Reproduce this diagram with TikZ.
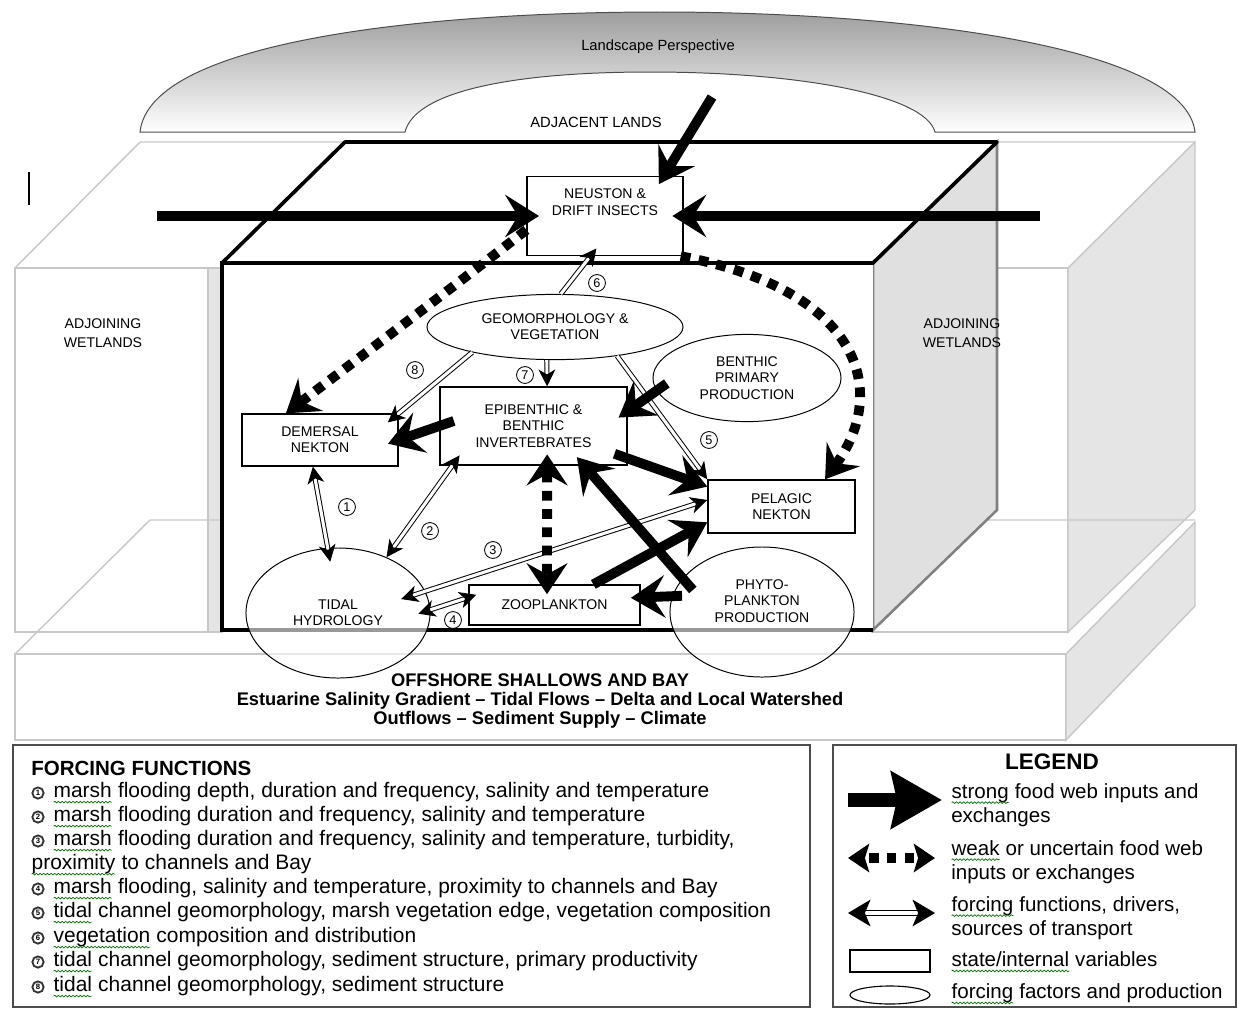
\documentclass[tikz,border=0pt]{standalone}
\usepackage{fontspec}
\setmainfont{Liberation Sans}
\usetikzlibrary{arrows.meta,calc,shapes.geometric,decorations.pathmorphing}
\newcommand\squig[1]{\tikz[baseline=(sq.base)]{\node[inner sep=0pt,outer sep=0pt,anchor=center] (sq) {#1};
  \draw[green!45!black,line width=0.5pt,decorate,decoration={snake,amplitude=0.6pt,segment length=2.6pt}]
  ([yshift=-3pt]sq.base west) -- ([yshift=-3pt]sq.base east);}}
\tikzset{
  stip/.tip={Stealth[length=24pt,width=30pt,inset=9pt]},
  wtip/.tip={Stealth[length=22pt,width=29pt,inset=8pt]},
  ftip/.tip={Stealth[length=12pt,width=12pt,inset=3.5pt]},
  statebox/.style={draw,line width=0.9pt,fill=white,inner sep=0pt},
  factor/.style={ellipse,draw,line width=0.7pt,fill=white,inner sep=0pt},
  lbl/.style={align=center,inner sep=0pt,font=\fontsize{10}{11.5}\selectfont},
  numc/.style={circle,draw,line width=0.6pt,inner sep=0pt,minimum size=12pt,font=\fontsize{9}{9}\selectfont},
  wall/.style={draw=black!22,line width=1pt},
  face/.style={fill=black!10,draw=black!22,line width=1pt},
  strongflow/.style={line width=7pt,-stip},
  weakflow/.style={line width=7pt,dash pattern=on 7pt off 6pt,-wtip},
  forcing/.style={line width=0.7pt,double,double distance=2.2pt,-ftip},
  listnum/.style={circle,draw=black!80,line width=1.3pt,inner sep=0pt,minimum size=8pt,font=\fontsize{5.5}{5.5}\selectfont\bfseries},
  listtxt/.style={anchor=west,inner sep=0pt,font=\fontsize{14.9}{17}\selectfont},
  legtxt/.style={anchor=west,align=left,inner sep=0pt,font=\fontsize{14.6}{17}\selectfont}
}
\begin{document}
\begin{tikzpicture}[x=0.025cm,y=-0.025cm]
\useasboundingbox (0,0) rectangle (1238,1009);
%=========================================== landscape
\shadedraw[top color=black!38,bottom color=white,draw=black!70,line width=0.7pt]
  (140,132) .. controls (150,40) and (430,12) .. (660,12) .. controls (900,12) and (1185,45) .. (1195,132)
  -- (935,132) .. controls (925,95) and (800,72) .. (650,72) .. controls (510,72) and (415,92) .. (405,132) -- cycle;
\node[font=\fontsize{10.5}{12}\selectfont] (landtxt) at (658,47) {Landscape Perspective};
\node[font=\fontsize{10.5}{12}\selectfont] (adjtxt) at (596,122) {ADJACENT LANDS};
%=========================================== wetlands and bay blocks
\draw[wall] (140,142) -- (1195,142) (140,142) -- (15,268);
\draw[wall] (15,268) rectangle (208,632);
\draw[face] (208,268) rectangle (222,632);
\draw[wall] (873,268) rectangle (1068,632);
\draw[face] (1068,268) -- (1195,142) -- (1195,510) -- (1068,632) -- cycle;
\draw[wall] (15,654) rectangle (1066,740);
\draw[face] (1066,654) -- (1195,522) -- (1195,606) -- (1066,740) -- cycle;
\draw[wall] (150,520) -- (1195,520) (150,520) -- (15,654);
\draw[line width=1.4pt] (29,172) -- (29,205);
%=========================================== marsh channel box
\draw[fill=black!12,draw=black!50,line width=1.8pt] (873,263) -- (997,142) -- (997,510) -- (873,630) -- cycle;
\draw[line width=2.6pt,fill=white,line join=round] (222,263) -- (345,142) -- (997,142) -- (873,263) -- cycle;
\fill[white] (222,263) rectangle (873,630);
\draw[line width=2.8pt] (873,263) -- (222,263) -- (222,630) -- (873,630);
\node[lbl,font=\fontsize{10}{13.5}\selectfont] (wetl) at (103,333) {ADJOINING\\WETLANDS};
\node[lbl,font=\fontsize{10}{13.5}\selectfont] (wetr) at (962,333) {ADJOINING\\WETLANDS};
\node[align=center,inner sep=0pt,font=\fontsize{13}{13.2}\selectfont\bfseries] (bay) at (540,701)
  {OFFSHORE SHALLOWS AND BAY\\Estuarine Salinity Gradient – Tidal Flows – Delta and Local Watershed\\Outflows – Sediment Supply – Climate};
%=========================================== variables
\node[statebox,minimum width=3.9cm,minimum height=1.98cm] (neuston) at (605,216) {};
\node[lbl,font=\fontsize{10}{12.5}\selectfont] (neustontxt) at (605,202) {NEUSTON \&\\DRIFT INSECTS};
\node[factor,lbl,minimum width=6.4cm,minimum height=1.63cm] (geo) at (555,327) {GEOMORPHOLOGY \&\\VEGETATION};
\node[factor,lbl,minimum width=4.7cm,minimum height=2.18cm] (benthic) at (747,378) {BENTHIC\\PRIMARY\\PRODUCTION};
\node[statebox,lbl,minimum width=4.68cm,minimum height=1.95cm] (epi) at (533.5,426) {EPIBENTHIC \&\\BENTHIC\\INVERTEBRATES};
\node[statebox,lbl,minimum width=3.9cm,minimum height=1.3cm] (demersal) at (320,440) {DEMERSAL\\NEKTON};
\node[statebox,lbl,minimum width=3.68cm,minimum height=1.33cm] (pelagic) at (781.5,506.5) {PELAGIC\\NEKTON};
\node[statebox,lbl,minimum width=4.28cm,minimum height=1cm] (zoo) at (554.5,605) {ZOOPLANKTON};
\node[factor,lbl,fill opacity=0.6,text opacity=1,minimum width=4.6cm,minimum height=3.25cm] (tidal) at (338,613) {TIDAL\\HYDROLOGY};
\node[factor,fill opacity=0.6,minimum width=4.6cm,minimum height=3.25cm] (phyto) at (762,612) {};
\node[lbl] (phytotxt) at (762,601) {PHYTO-\\PLANKTON\\PRODUCTION};
%=========================================== forcing functions
\draw[forcing,ftip-ftip,shorten >=-10pt] (demersal.-105) -- (tidal.99);
\draw[forcing,ftip-ftip,shorten <=-9pt] (epi.-154) -- (tidal.49);
\draw[forcing,ftip-ftip,shorten >=-18pt] (pelagic.175) -- (tidal.14);
\draw[forcing,ftip-ftip,shorten <=-9pt,shorten >=-6pt] (tidal.2) -- (zoo.175);
\draw[forcing] (geo.-25) -- (pelagic.north west);
\draw[forcing,shorten >=-7pt] (geo.80) -- (neuston.-110);
\draw[forcing] (geo.-104) -- (epi.71);
\draw[forcing,shorten >=-10pt] (geo.-163) -- (demersal.north east);
\foreach \k/\p in {1/{347,507},2/{430,531},3/{493,550},4/{453,620},5/{709,440},6/{597,283},7/{525,375},8/{415,370}}
  \node[numc] (num\k) at (\p) {\k};
%=========================================== food web
\coordinate (adjin) at (712,97);
\coordinate (wetlin) at (157,216);
\coordinate (wetrin) at (1040,216);
\draw[strongflow,shorten >=-7pt] (adjin) -- ($(neuston.north)!0.75!(neuston.north east)$);
\draw[strongflow,shorten >=-9pt] (wetlin) -- (neuston.west);
\draw[strongflow,shorten >=-8pt] (wetrin) -- (neuston.east);
\draw[strongflow,shorten <=-9pt,shorten >=-8pt] (benthic.188) -- (epi.9);
\draw[strongflow,shorten <=-11pt,shorten >=-8pt] (epi.west) -- (demersal.east);
\draw[strongflow,shorten <=-10pt] (epi.-19) -- (pelagic.165);
\draw[strongflow,shorten <=-11pt,shorten >=-8pt] (phyto.157) -- (epi.-38);
\draw[strongflow] (zoo.28) -- (pelagic.192);
\draw[strongflow,shorten <=-7pt,shorten >=-7pt] (phyto.170) -- (zoo.5);
\draw[weakflow] (neuston.190) .. controls (452,288) and (372,348) .. (demersal.142);
\draw[weakflow] (neuston.-28) .. controls (860,290) and (890,390) .. (pelagic.32);
\draw[weakflow,wtip-wtip,shorten <=-8pt,shorten >=-7pt] (epi.-71) -- (zoo.110);
%=========================================== forcing functions list
\draw[black!70,line width=1pt] (13,745) rectangle (810,1007);
\node[anchor=west,inner sep=0pt,font=\fontsize{14.6}{17}\selectfont\bfseries] (fftitle) at (31,768) {FORCING FUNCTIONS};
\foreach \k/\yy/\txt in {
  1/793/{\squig{marsh} flooding depth, duration and frequency, salinity and temperature},
  2/817/{\squig{marsh} flooding duration and frequency, salinity and temperature},
  3/841/{\squig{marsh} flooding duration and frequency, salinity and temperature, turbidity,},
  4/889/{\squig{marsh} flooding, salinity and temperature, proximity to channels and Bay},
  5/913/{\squig{tidal} channel geomorphology, marsh vegetation edge, vegetation composition},
  6/938/{\squig{vegetation} composition and distribution},
  7/962/{\squig{tidal} channel geomorphology, sediment structure, primary productivity},
  8/987/{\squig{tidal} channel geomorphology, sediment structure}}{
  \node[listnum] (fn\k) at (38,\yy) {\k};
  \node[listtxt] (ff\k) at (53,\yy) {\txt};
}
\node[listtxt] (ff3b) at (31,865) {\squig{proximity} to channels and Bay};
%=========================================== legend
\draw[black!70,line width=1pt] (833,745) rectangle (1236,1007);
\node[font=\fontsize{16}{16}\selectfont\bfseries] (legtitle) at (1052,762) {LEGEND};
\coordinate (ls1) at (848,800); \coordinate (ls2) at (942,800);
\coordinate (lw1) at (848,858); \coordinate (lw2) at (935,858);
\coordinate (lf1) at (848,913); \coordinate (lf2) at (935,913);
\draw[line width=10pt,-{Stealth[length=36pt,width=40pt,inset=4pt]}] (ls1) -- (ls2);
\draw[line width=6.5pt,dash pattern=on 6.5pt off 6pt,dash phase=-4pt,
  {Stealth[length=15pt,width=20pt,inset=3pt]}-{Stealth[length=15pt,width=20pt,inset=3pt]}] (lw1) -- (lw2);
\draw[line width=1pt,double,double distance=2.4pt,
  {Stealth[length=16pt,width=19pt,inset=4pt]}-{Stealth[length=16pt,width=19pt,inset=4pt]}] (lf1) -- (lf2);
\node[draw,line width=0.8pt,minimum width=2cm,minimum height=0.55cm] (lgbox) at (890,961) {};
\node[ellipse,draw,line width=0.8pt,minimum width=2cm,minimum height=0.45cm,inner sep=0pt] (lgell) at (890,995) {};
\node[legtxt] (lg1) at (951,805) {\squig{strong} food web inputs and\\exchanges};
\node[legtxt] (lg2) at (951,862) {\squig{weak} or uncertain food web\\inputs or exchanges};
\node[legtxt] (lg3) at (951,918) {\squig{forcing} functions, drivers,\\sources of transport};
\node[legtxt] (lg4) at (951,962) {\squig{state/internal} variables};
\node[legtxt] (lg5) at (951,994) {\squig{forcing} factors and production};
\end{tikzpicture}
\end{document}
